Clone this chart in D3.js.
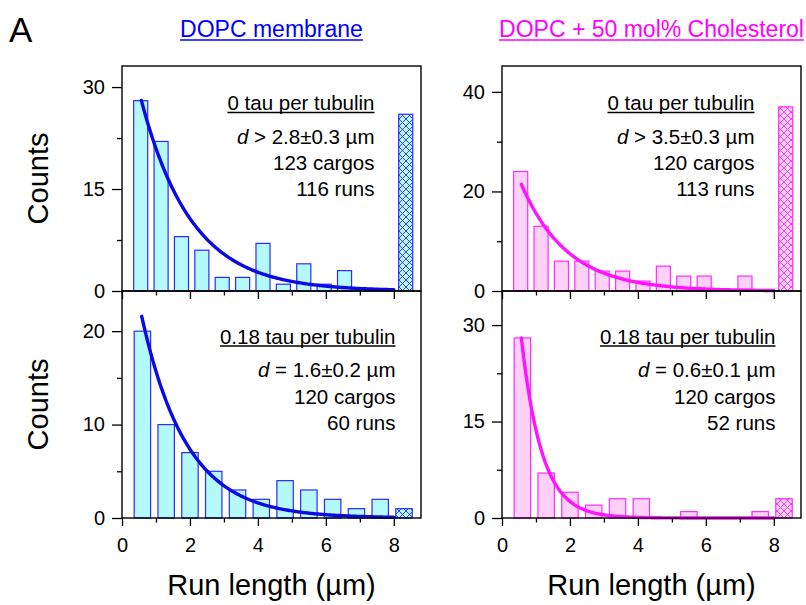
<!DOCTYPE html>
<html>
<head>
<meta charset="utf-8">
<script src="https://cdn.jsdelivr.net/npm/d3@7"></script>
<style>
  html, body { margin: 0; padding: 0; background: #fff; }
  svg { display: block; font-family: "Liberation Sans", Arial, sans-serif; }
</style>
</head>
<body>
<svg id="chart" width="806" height="605"></svg>
<script>
// Bin centres (run length, µm); the last bin of each row holds runs that reached the end
const topBins = [0.55, 1.15, 1.75, 2.35, 2.95, 3.55, 4.15, 4.75, 5.35, 5.95, 6.55, 7.15, 7.75, 8.35];
const bottomBins = [0.6, 1.3, 2.0, 2.7, 3.4, 4.1, 4.8, 5.5, 6.2, 6.9, 7.6, 8.3];

// Counts per bin
const dopcNoTau = [28, 22, 8, 6, 2, 2, 7, 1, 4, 1, 3, 0, 0, 26];
const cholNoTau = [24, 13, 6, 6, 4, 4, 2, 5, 3, 3, 0, 3, 0, 37];
const dopcTau = [20, 10, 7, 5, 3, 2, 4, 3, 2, 1, 2, 1];
const cholTau = [28, 7, 4, 2, 3, 3, 0, 1, 0, 0, 1, 3];

// Exponential fits: counts = amplitude * exp(-x / length)
const fitAmplitude = [41.2, 32.6, 33.5, 72.4];
const fitLength = [1.48, 1.36, 1.32, 0.6];
const fitRange = [[0.57, 8.0], [0.57, 8.0], [0.58, 8.0], [0.57, 8.0]];

// Axis ticks
const xMajorTicks = [0, 2, 4, 6, 8];
const xMinorTicks = [1, 3, 5, 7];
const yMax = [33.1, 45.2, 24.3, 35.3];
const yMajorTicks = [[0, 15, 30], [0, 20, 40], [0, 10, 20], [0, 15, 30]];
const yMinorTicks = [[7.5, 22.5], [10, 30], [5, 15], [7.5, 22.5]];

// Texts
const columnTitles = ["DOPC membrane", "DOPC + 50 mol% Cholesterol"];
const conditionLabels = ["0 tau per tubulin", "0 tau per tubulin", "0.18 tau per tubulin", "0.18 tau per tubulin"];
const lengthRelations = [">", ">", "=", "="];
const lengthValues = ["2.8±0.3 µm", "3.5±0.3 µm", "1.6±0.2 µm", "0.6±0.1 µm"];
const cargoLabels = ["123 cargos", "120 cargos", "120 cargos", "120 cargos"];
const runLabels = ["116 runs", "113 runs", "60 runs", "52 runs"];
const xTitle = "Run length (µm)";
const yTitle = "Counts";
const panelLetter = "A";

// Styling per membrane column
const columnStyle = [
  { stroke: "#2b2bff", fill: "#b4fafa", curve: "#0a0ae6", title: "#0000ff" },
  { stroke: "#ff2bff", fill: "#ffd0f8", curve: "#ff14ff", title: "#ff00ff" }
];

const svg = d3.select("#chart");
const defs = svg.append("defs");

// Cross-hatch pattern for the censored (end-reaching) bin
const hatchSize = 7;
columnStyle.forEach((s, i) => {
  const p = defs.append("pattern")
    .attr("id", "hatch" + i)
    .attr("patternUnits", "userSpaceOnUse")
    .attr("width", hatchSize).attr("height", hatchSize);
  p.append("rect").attr("width", hatchSize).attr("height", hatchSize).attr("fill", s.fill);
  p.append("path")
    .attr("d", `M0,0L${hatchSize},${hatchSize}M${hatchSize},0L0,${hatchSize}`)
    .attr("stroke", s.stroke).attr("stroke-width", 0.9).attr("fill", "none");
});

const columnsX = [[122, 421], [502, 801]];
const rowsY = [[66, 291], [291, 518]];
const panels = [
  { col: 0, row: 0, bins: topBins, counts: dopcNoTau },
  { col: 1, row: 0, bins: topBins, counts: cholNoTau },
  { col: 0, row: 1, bins: bottomBins, counts: dopcTau },
  { col: 1, row: 1, bins: bottomBins, counts: cholTau }
];

panels.forEach((p, i) => {
  const style = columnStyle[p.col];
  const [x0, x1] = columnsX[p.col];
  const [y0, y1] = rowsY[p.row];
  const x = d3.scaleLinear().domain([0, 8.8]).range([x0, x1]);
  const y = d3.scaleLinear().domain([0, yMax[i]]).range([y1, y0]);
  const g = svg.append("g");

  const pitch = p.bins[1] - p.bins[0];
  const bw = x(pitch * 0.69) - x(0);
  const last = p.bins.length - 1;

  // Histogram bars
  g.selectAll("rect.bar").data(p.counts).join("rect")
    .attr("class", "bar")
    .attr("x", (d, j) => x(p.bins[j]) - bw / 2)
    .attr("width", bw)
    .attr("y", d => y(d))
    .attr("height", d => y(0) - y(d))
    .attr("fill", (d, j) => j === last ? `url(#hatch${p.col})` : style.fill)
    .attr("stroke", style.stroke)
    .attr("stroke-width", 1.2);

  // Exponential fit
  const [fa, fb] = fitRange[i];
  const pts = d3.range(0, 201).map(k => fa + (fb - fa) * k / 200);
  const line = d3.line()
    .x(v => x(v))
    .y(v => y(fitAmplitude[i] * Math.exp(-v / fitLength[i])));
  g.append("path").datum(pts)
    .attr("d", line)
    .attr("fill", "none")
    .attr("stroke", style.curve)
    .attr("stroke-width", 3.4)
    .attr("stroke-linecap", "round");

  // Frame
  g.append("rect")
    .attr("x", x0).attr("y", y0)
    .attr("width", x1 - x0).attr("height", y1 - y0)
    .attr("fill", "none").attr("stroke", "#000").attr("stroke-width", 1.4);

  // Bottom axis
  const xAxis = d3.axisBottom(x).tickValues(xMajorTicks).tickSize(8).tickPadding(12)
    .tickFormat(p.row === 1 ? d3.format("d") : () => "");
  const xa = g.append("g").attr("transform", `translate(0,${y1})`).call(xAxis);
  const xAxisMinor = d3.axisBottom(x).tickValues(xMinorTicks).tickSize(4.5).tickFormat(() => "");
  const xm = g.append("g").attr("transform", `translate(0,${y1})`).call(xAxisMinor);

  // Left axis
  const yAxis = d3.axisLeft(y).tickValues(yMajorTicks[i]).tickSize(10).tickPadding(7).tickFormat(d3.format("d"));
  const ya = g.append("g").attr("transform", `translate(${x0},0)`).call(yAxis);
  const yAxisMinor = d3.axisLeft(y).tickValues(yMinorTicks[i]).tickSize(5).tickFormat(() => "");
  const ym = g.append("g").attr("transform", `translate(${x0},0)`).call(yAxisMinor);

  [xa, xm, ya, ym].forEach(a => {
    a.select(".domain").remove();
    a.selectAll(".tick line").attr("stroke", "#000").attr("stroke-width", 1.3);
    a.selectAll(".tick text").attr("fill", "#000").attr("font-size", 20)
      .attr("font-family", "\"Liberation Sans\", Arial, sans-serif");
  });

  // Annotation block, right aligned
  const tx = p.row === 0 ? x1 - 46.5 : x1 - 25.5;
  const ty = p.row === 0 ? y0 + 44 : y0 + 52.5;
  const ann = g.append("g").attr("font-size", 20.5).attr("fill", "#000").attr("text-anchor", "end");
  const t1 = ann.append("text").attr("x", tx).attr("y", ty).text(conditionLabels[i]);
  const w1 = t1.node().getComputedTextLength();
  ann.append("line")
    .attr("x1", tx - w1).attr("x2", tx)
    .attr("y1", ty + 2.5).attr("y2", ty + 2.5)
    .attr("stroke", "#000").attr("stroke-width", 1.3);
  const t2 = ann.append("text").attr("x", tx).attr("y", ty + 33.5);
  t2.append("tspan").attr("font-style", "italic").text("d");
  t2.append("tspan").text(` ${lengthRelations[i]} ${lengthValues[i]}`);
  ann.append("text").attr("x", tx).attr("y", ty + 60).text(cargoLabels[i]);
  ann.append("text").attr("x", tx).attr("y", ty + 86).text(runLabels[i]);
});

// Axis titles
columnsX.forEach(([x0, x1]) => {
  svg.append("text")
    .attr("x", (x0 + x1) / 2).attr("y", 595)
    .attr("text-anchor", "middle").attr("font-size", 29).attr("fill", "#000")
    .text(xTitle);
});
rowsY.forEach(([y0, y1]) => {
  svg.append("text")
    .attr("transform", `translate(48,${(y0 + y1) / 2}) rotate(-90)`)
    .attr("text-anchor", "middle").attr("font-size", 29).attr("fill", "#000")
    .text(yTitle);
});

// Column titles, underlined
columnsX.forEach(([x0, x1], c) => {
  const cx = (x0 + x1) / 2;
  const t = svg.append("text")
    .attr("x", cx).attr("y", 37)
    .attr("text-anchor", "middle").attr("font-size", 23)
    .attr("fill", columnStyle[c].title)
    .text(columnTitles[c]);
  const w = t.node().getComputedTextLength();
  svg.append("line")
    .attr("x1", cx - w / 2).attr("x2", cx + w / 2)
    .attr("y1", 40).attr("y2", 40)
    .attr("stroke", columnStyle[c].title).attr("stroke-width", 1.6);
});

svg.append("text").attr("x", 9).attr("y", 42).attr("font-size", 35).attr("fill", "#000").text(panelLetter);
</script>
</body>
</html>
